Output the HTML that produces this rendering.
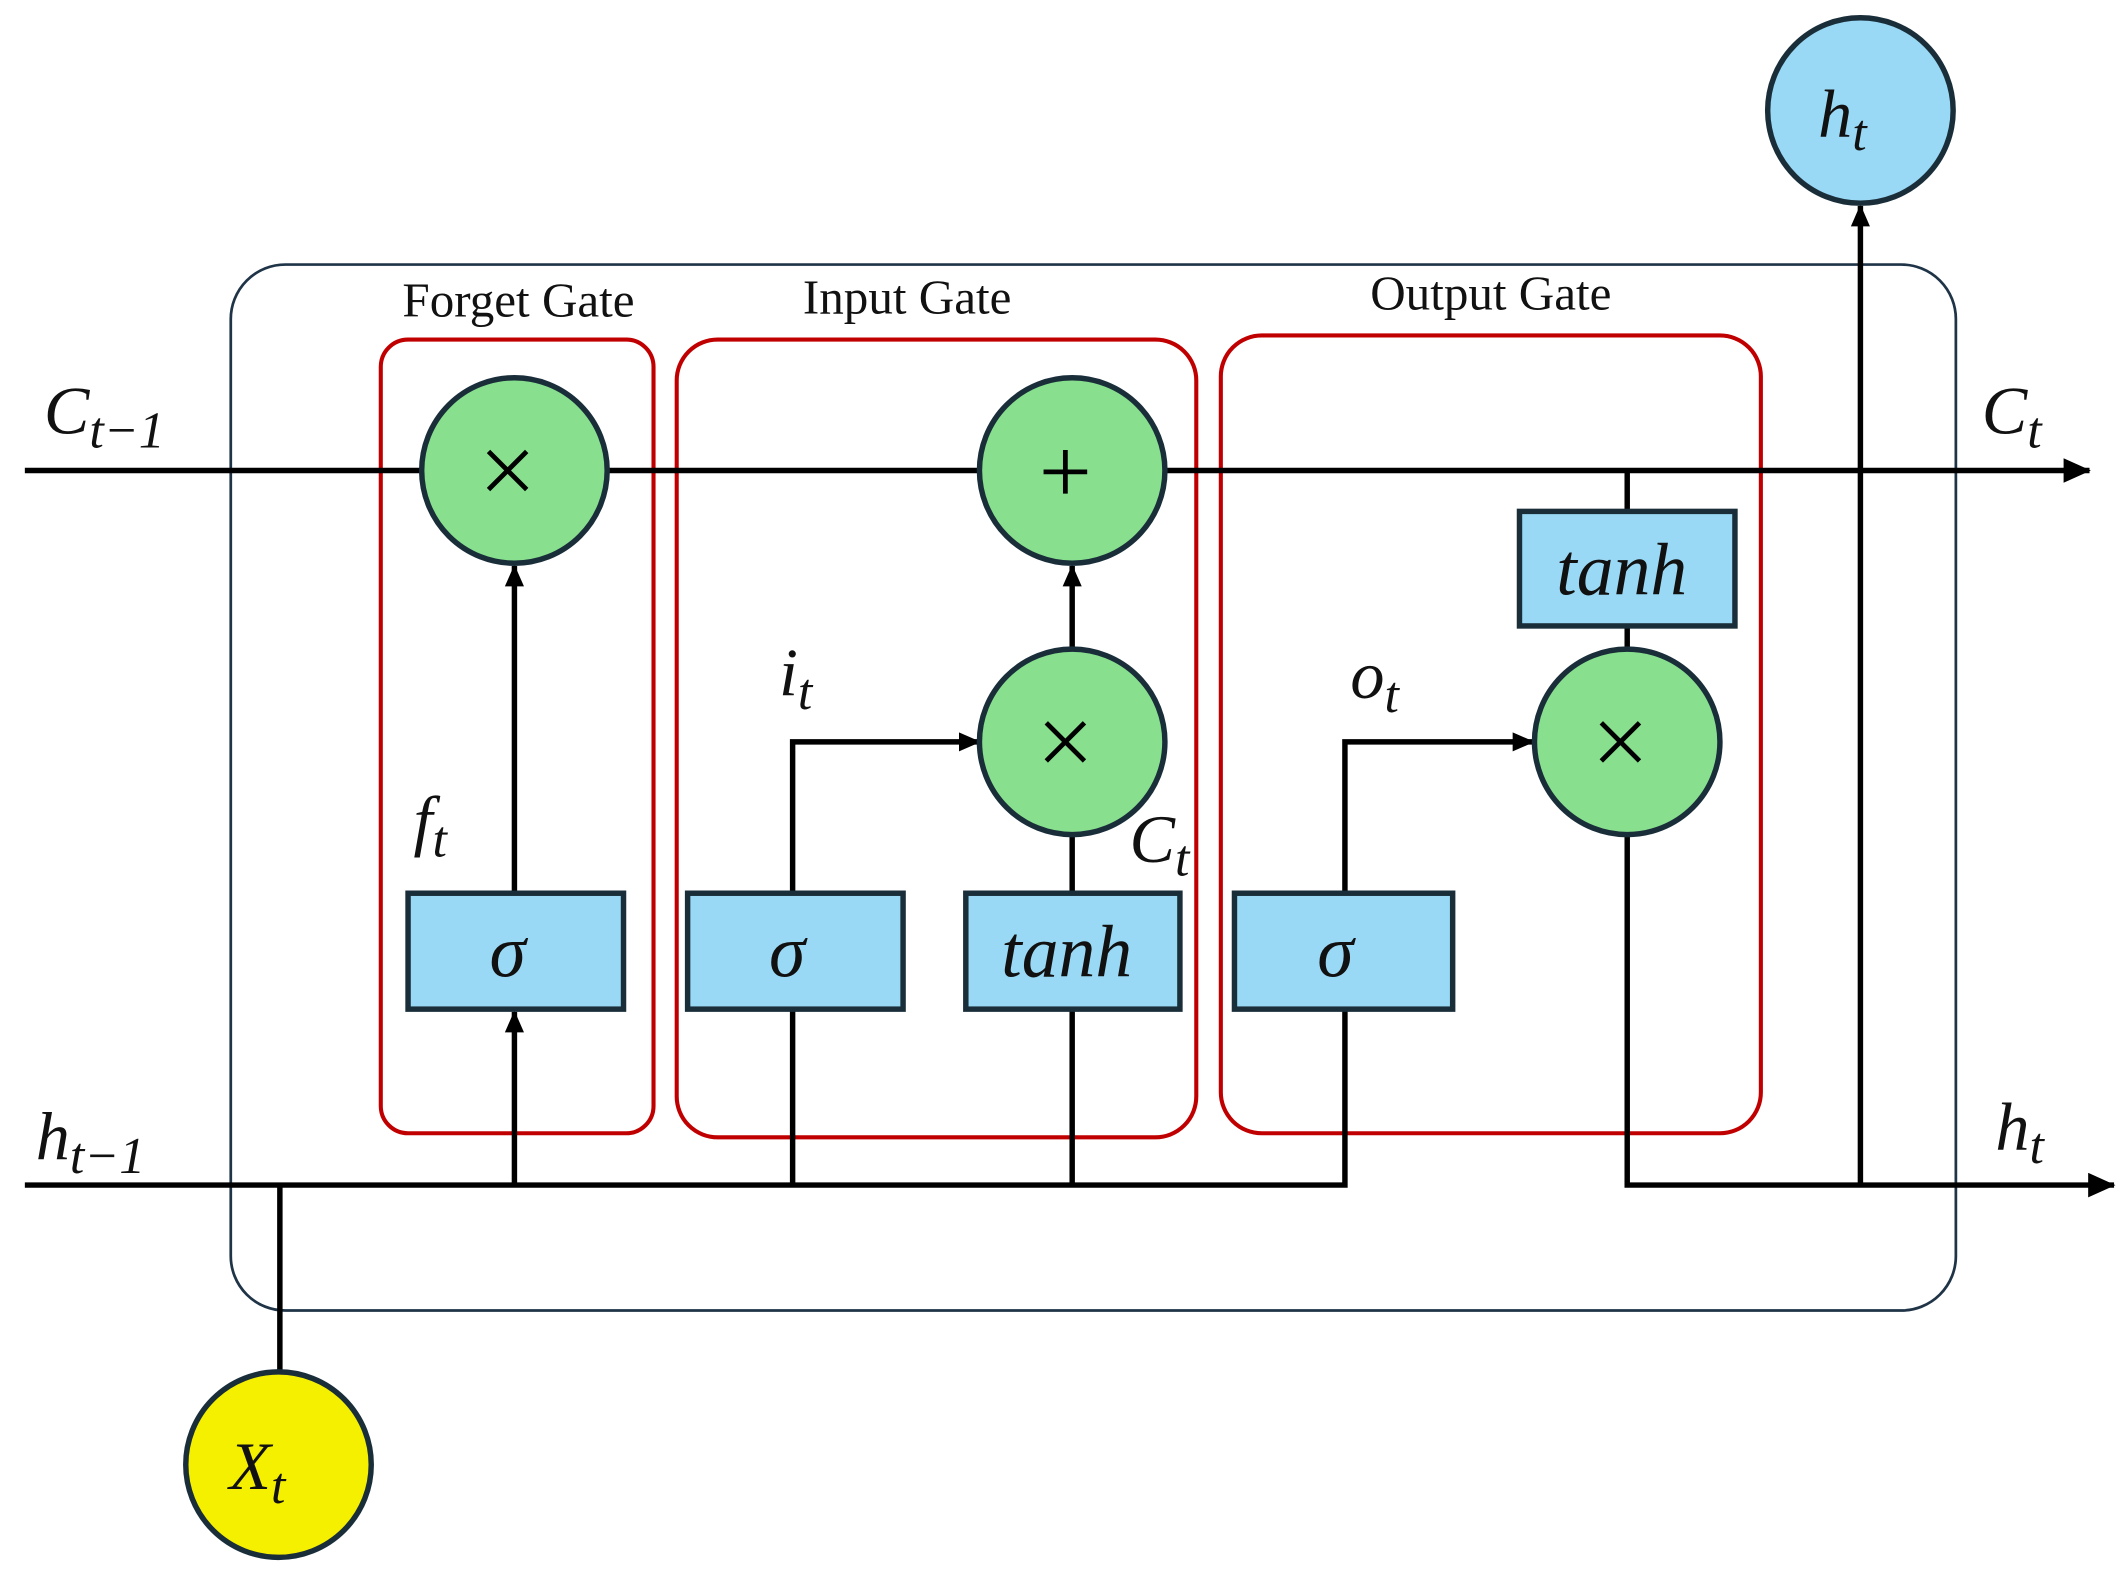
<!DOCTYPE html>
<html><head><meta charset="utf-8"><style>
html,body{margin:0;padding:0;background:#fff;}
svg{display:block}
text{font-family:"Liberation Serif",serif;fill:#111}
.m{font-style:italic}
</style></head><body>
<svg width="2128" height="1571" viewBox="0 0 1560 1152" xmlns="http://www.w3.org/2000/svg">
<defs>
<marker id="a" markerWidth="16" markerHeight="16" refX="15" refY="8" orient="auto" markerUnits="userSpaceOnUse" viewBox="0 0 16 16">
<path d="M0,1 L16,8 L0,15 z" fill="#000"/></marker>
<marker id="b" markerWidth="20" markerHeight="18" refX="19" refY="9" orient="auto" markerUnits="userSpaceOnUse" viewBox="0 0 20 18">
<path d="M0,0 L20,9 L0,18 z" fill="#000"/></marker>
</defs>
<rect x="169" y="194" width="1265" height="767" rx="40" fill="none" stroke="#1f3447" stroke-width="2"/>
<rect x="279" y="249" width="200" height="582" rx="20" fill="none" stroke="#c00000" stroke-width="3"/>
<rect x="496" y="249" width="381" height="585" rx="30" fill="none" stroke="#c00000" stroke-width="3"/>
<rect x="895" y="246" width="396" height="585" rx="30" fill="none" stroke="#c00000" stroke-width="3"/>
<text x="380" y="232" font-size="36" text-anchor="middle">Forget Gate</text>
<text x="665" y="230" font-size="36" text-anchor="middle">Input Gate</text>
<text x="1093" y="227" font-size="36" text-anchor="middle">Output Gate</text>
<g stroke="#000" stroke-width="4" fill="none">
<line x1="18" y1="345" x2="1532" y2="345" marker-end="url(#b)"/>
<polyline points="18,869 986,869 986,544 1124,544" marker-end="url(#a)"/>
<polyline points="1193,612 1193,869 1550,869" marker-end="url(#b)"/>
<line x1="377" y1="869" x2="377" y2="742" marker-end="url(#a)"/>
<line x1="377" y1="655" x2="377" y2="415" marker-end="url(#a)"/>
<polyline points="581,869 581,544 718,544" marker-end="url(#a)"/>
<line x1="786" y1="869" x2="786" y2="612"/>
<line x1="786" y1="477" x2="786" y2="415" marker-end="url(#a)"/>
<line x1="1193" y1="345" x2="1193" y2="477"/>
<line x1="1364" y1="869" x2="1364" y2="151" marker-end="url(#a)"/>
<line x1="205" y1="869" x2="205" y2="1006"/>
</g>
<g fill="#88e08f" stroke="#1a2e3a" stroke-width="4">
<circle cx="377" cy="345" r="68"/><circle cx="786" cy="345" r="68"/>
<circle cx="786" cy="544" r="68"/><circle cx="1193" cy="544" r="68"/>
</g>
<circle cx="1364" cy="81" r="68" fill="#99d9f5" stroke="#1a2e3a" stroke-width="4"/>
<circle cx="204" cy="1074" r="68" fill="#f5f000" stroke="#1a2e3a" stroke-width="4"/>
<g fill="#99d9f5" stroke="#1a2e3a" stroke-width="4">
<rect x="299" y="655" width="158" height="85"/><rect x="504" y="655" width="158" height="85"/>
<rect x="708" y="655" width="157" height="85"/><rect x="905" y="655" width="160" height="85"/>
<rect x="1114" y="375" width="158" height="84"/>
</g>
<g stroke="#000" stroke-width="3.5">
<path d="M358,331 L386,359 M386,331 L358,359"/>
<path d="M767,530 L795,558 M795,530 L767,558"/>
<path d="M1174,530 L1202,558 M1202,530 L1174,558"/>
<path d="M781,330 L781,362 M765,346 L797,346"/>
</g>
<g font-size="54" text-anchor="middle">
<text class="m" x="372" y="716">σ</text><text class="m" x="577" y="716">σ</text>
<text class="m" x="782" y="716">tanh</text><text class="m" x="979" y="716">σ</text>
<text class="m" x="1189" y="436">tanh</text>
</g>
<g font-size="50">
<text class="m" x="32" y="318">C<tspan font-size="38" dy="10">t−1</tspan></text>
<text class="m" x="1453" y="318">C<tspan font-size="38" dy="10">t</tspan></text>
<text class="m" x="26" y="850">h<tspan font-size="38" dy="10">t−1</tspan></text>
<text class="m" x="1463" y="843">h<tspan font-size="38" dy="10">t</tspan></text>
<text class="m" x="303" y="618">f<tspan font-size="38" dy="10">t</tspan></text>
<text class="m" x="571" y="510">i<tspan font-size="38" dy="10">t</tspan></text>
<text class="m" x="990" y="512">o<tspan font-size="38" dy="10">t</tspan></text>
<text class="m" x="828" y="632">C<tspan font-size="38" dy="10">t</tspan></text>
<text class="m" x="1333" y="100">h<tspan font-size="38" dy="10">t</tspan></text>
<text class="m" x="168" y="1092">X<tspan font-size="38" dy="10">t</tspan></text>
</g>
</svg>
</body></html>
